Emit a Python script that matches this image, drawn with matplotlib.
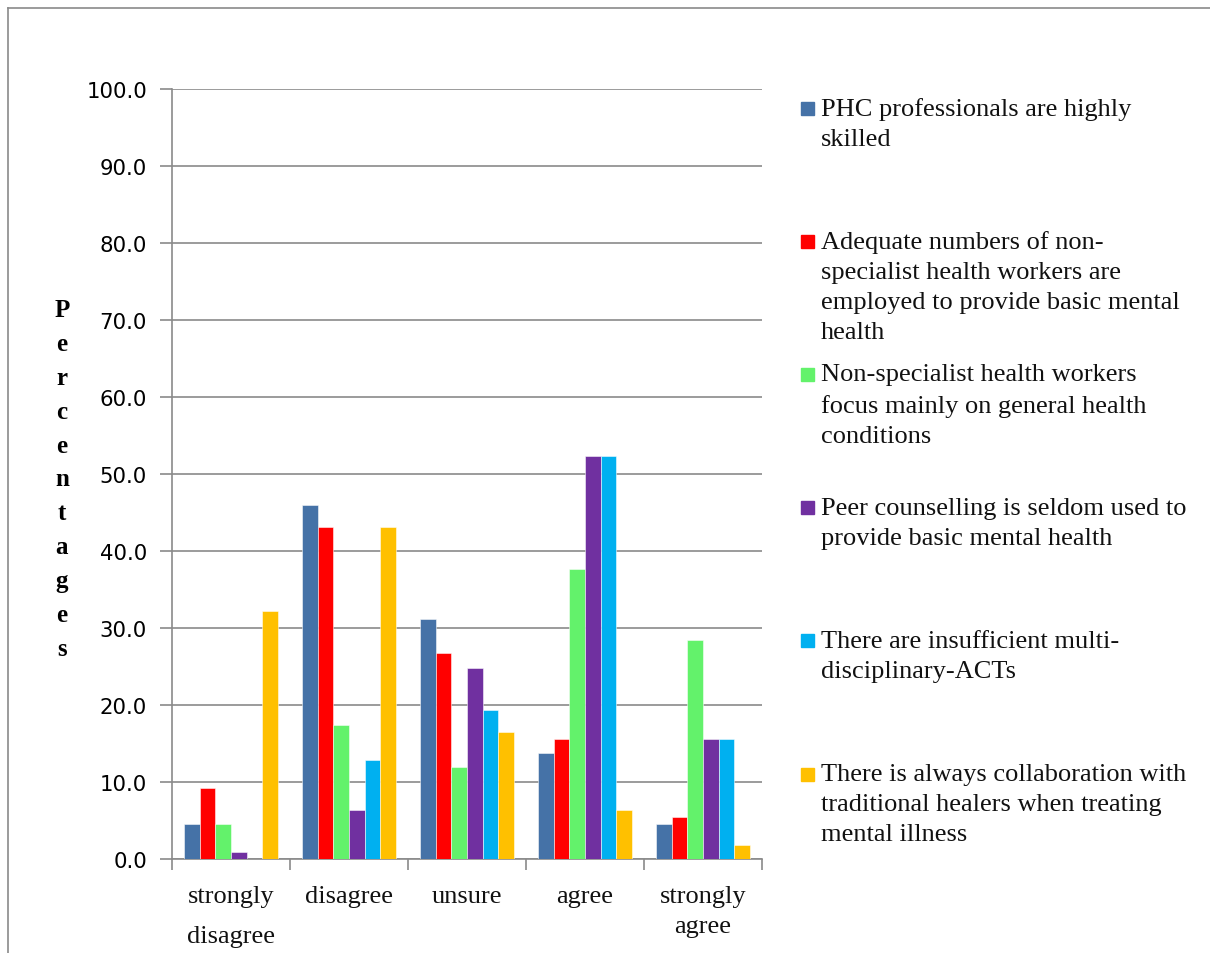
import matplotlib
matplotlib.use("Agg")
import matplotlib.pyplot as plt
import numpy as np
from matplotlib.lines import Line2D
from matplotlib.patches import Rectangle

# categories on the x axis
CATEGORIES = ["strongly\ndisagree", "disagree", "unsure", "agree", "strongly\nagree"]

# one series per statement (percent)
SERIES_LABELS = [
    "PHC professionals are highly\nskilled",
    "Adequate numbers of non-\nspecialist health workers are\nemployed to provide basic mental\nhealth",
    "Non-specialist health workers\nfocus mainly on general health\nconditions",
    "Peer counselling is seldom used to\nprovide basic mental health",
    "There are insufficient multi-\ndisciplinary-ACTs",
    "There is always collaboration with\ntraditional healers when treating\nmental illness",
]
PHC_SKILLED = [4.6, 46.0, 31.2, 13.8, 4.6]
ADEQUATE_NUMBERS = [9.2, 43.1, 26.7, 15.6, 5.5]
GENERAL_HEALTH = [4.6, 17.4, 11.9, 37.6, 28.4]
PEER_COUNSELLING = [0.9, 6.4, 24.8, 52.3, 15.6]
INSUFFICIENT_ACTS = [0.0, 12.9, 19.3, 52.3, 15.6]
TRADITIONAL_HEALERS = [32.2, 43.1, 16.5, 6.4, 1.8]

COLORS = ["#4572A7", "#FF0000", "#63F26B", "#7030A0", "#00B0F0", "#FFC000"]
GRAY = "#8a8a8a"

series = [PHC_SKILLED, ADEQUATE_NUMBERS, GENERAL_HEALTH,
          PEER_COUNSELLING, INSUFFICIENT_ACTS, TRADITIONAL_HEALERS]

W, H = 1210, 954
fig = plt.figure(figsize=(W / 100, H / 100), dpi=100)
ax = fig.add_axes([172 / W, 1 - 860 / H, 590 / W, 770 / H])

x = np.arange(len(CATEGORIES))
bar_w = 1 / 7.5
for i, vals in enumerate(series):
    offset = (i - 2.5) * bar_w
    ax.bar(x + offset, vals, bar_w, color=COLORS[i],
           edgecolor=(1, 1, 1, 0.6), linewidth=0.6, zorder=3)

ax.set_xlim(-0.5, 4.5)
ax.set_ylim(0, 100)
ax.set_yticks(np.arange(0, 101, 10))
ax.set_yticklabels(["%.1f" % v for v in np.arange(0, 101, 10)],
                   fontsize=15.3, family="DejaVu Sans")
ax.yaxis.grid(True, color=GRAY, linewidth=1.2, zorder=0)

ax.set_xticks(x)
ax.set_xticklabels(CATEGORIES, fontsize=19, family="Liberation Serif",
                   linespacing=1.5, color="#111111")
ax.get_xticklabels()[0].set_linespacing(2.05)
ax.set_xticks(np.arange(-0.5, 5, 1), minor=True)
ax.tick_params(axis="x", which="major", length=0, pad=18.5)
ax.tick_params(axis="x", which="minor", length=8, width=1.2, color=GRAY)
ax.tick_params(axis="y", length=9, width=1.2, color=GRAY, pad=9)

for s in ["top", "right"]:
    ax.spines[s].set_visible(False)
for s in ["left", "bottom"]:
    ax.spines[s].set_color(GRAY)
    ax.spines[s].set_linewidth(1.2)

# stacked y label
fig.text(62 / W, 1 - 480 / H, "\n".join("Percentages"), ha="center", va="center",
         fontsize=18, fontweight="bold", family="Liberation Serif", linespacing=1.6)

# legend, entries spread evenly down the right side
for i, label in enumerate(SERIES_LABELS):
    top = 98 + i * 133.2
    fig.text(821 / W, 1 - top / H, label, ha="left", va="top",
             fontsize=19, family="Liberation Serif", linespacing=1.47,
             color="#111111")
    fig.patches.append(Rectangle((801 / W, 1 - (top + 17.5) / H), 13 / W, 13 / H,
                                 transform=fig.transFigure, color=COLORS[i]))

# outer chart border (top and left edges visible)
fig.add_artist(Line2D([8 / W, 1.0], [1 - 9 / H, 1 - 9 / H], color=GRAY, linewidth=1.2))
fig.add_artist(Line2D([8 / W, 8 / W], [0.0, 1 - 9 / H], color=GRAY, linewidth=1.2))

fig.savefig("out.png", dpi=100)
